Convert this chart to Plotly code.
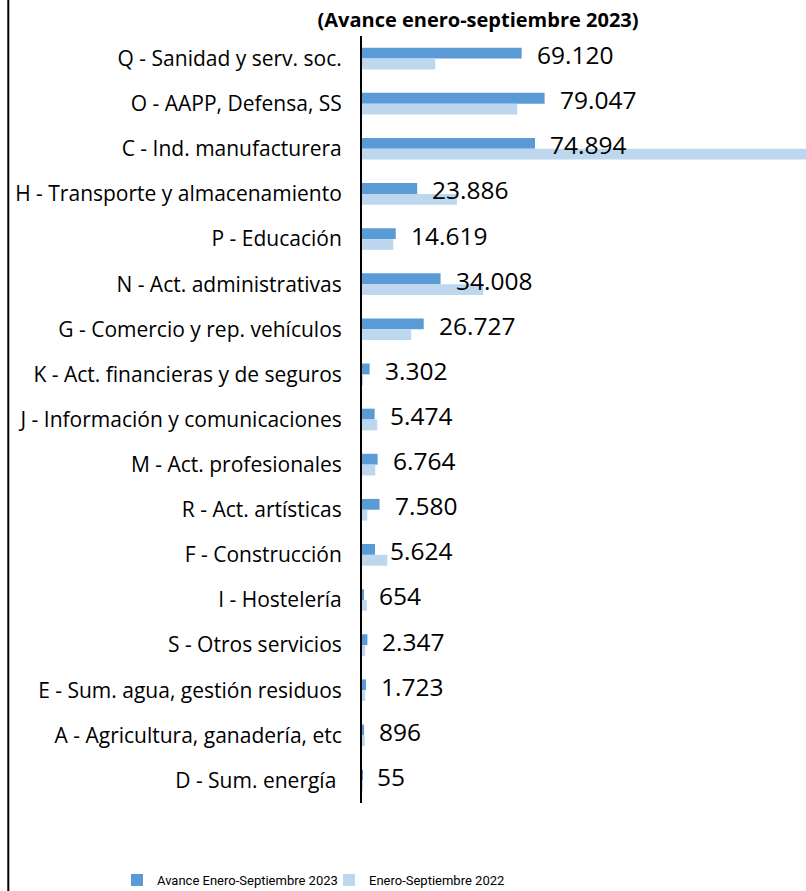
import plotly.graph_objects as go

categories = [
    "Q - Sanidad y serv. soc.",
    "O - AAPP, Defensa, SS",
    "C - Ind. manufacturera",
    "H - Transporte y almacenamiento",
    "P - Educación",
    "N - Act. administrativas",
    "G - Comercio y rep. vehículos",
    "K - Act. financieras y de seguros",
    "J - Información y comunicaciones",
    "M - Act. profesionales",
    "R - Act. artísticas",
    "F - Construcción",
    "I - Hostelería",
    "S - Otros servicios",
    "E - Sum. agua, gestión residuos",
    "A - Agricultura, ganadería, etc",
    "D - Sum. energía ",
]
values_2023 = [69120, 79047, 74894, 23886, 14619, 34008, 26727, 3302, 5474, 6764,
               7580, 5624, 654, 2347, 1723, 896, 55]
values_2022 = [31700, 67200, 200000, 41100, 13550, 52500, 21300, 150, 6600, 5750,
               2300, 10950, 2100, 1400, 1400, 1200, 60]
labels_2023 = ["69.120", "79.047", "74.894", "23.886", "14.619", "34.008", "26.727",
               "3.302", "5.474", "6.764", "7.580", "5.624", "654", "2.347", "1.723",
               "896", "55"]
series_names = ["Avance Enero-Septiembre 2023", "Enero-Septiembre 2022"]
title_text = "(Avance enero-septiembre 2023)"

W, H = 806, 891
ML, MR, MT, MB = 362, 0, 36, 88
plot_w = W - ML - MR
x_max = 192200

fig = go.Figure()
fig.add_trace(go.Bar(y=categories, x=values_2023, orientation="h", name=series_names[0],
                     marker=dict(color="#5B9BD5", line=dict(width=0))))
fig.add_trace(go.Bar(y=categories, x=values_2022, orientation="h", name=series_names[1],
                     marker=dict(color="#BDD7EE", line=dict(width=0))))

for c, v, t in zip(categories, values_2023, labels_2023):
    fig.add_annotation(x=v, y=c, text=t, showarrow=False, xanchor="left", yanchor="middle",
                       xshift=13, yshift=4, font=dict(family="Open Sans", size=24.5, color="#000000"))

fig.add_shape(type="line", xref="paper", yref="paper",
              x0=(8.3 - ML) / plot_w, x1=(8.3 - ML) / plot_w, y0=-2, y1=2,
              line=dict(color="#000000", width=2))

fig.update_layout(
    width=W, height=H,
    margin=dict(l=ML, r=MR, t=MT, b=MB, autoexpand=False),
    paper_bgcolor="white", plot_bgcolor="white",
    barmode="group", bargap=0.52, bargroupgap=0,
    title=dict(text="<b>" + title_text + "</b>", x=478 / W, xref="container", xanchor="center",
               y=1 - 20 / H, yref="container", yanchor="middle",
               font=dict(family="Open Sans", size=20, color="#000000")),
    xaxis=dict(range=[0, x_max], visible=False, showgrid=False, zeroline=False),
    yaxis=dict(autorange="reversed", showline=True, linecolor="#000000", linewidth=2,
               ticks="", ticklabelstandoff=14, showgrid=False,
               tickfont=dict(family="Open Sans", size=21, color="#000000")),
    legend=dict(orientation="h", xref="container", yref="container", x=117 / W, y=1 - 880 / H,
                xanchor="left", yanchor="middle", entrywidth=167,
                font=dict(family="Roboto", size=13, color="#000000")),
    showlegend=True,
)

fig.write_html("out.html", post_script="document.body.style.margin='0';",
               config={"displayModeBar": False})
